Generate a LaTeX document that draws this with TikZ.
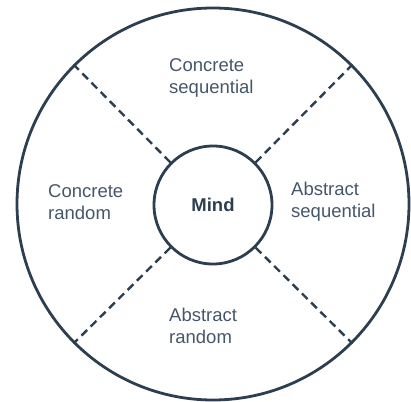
\documentclass[tikz,border=0pt]{standalone}
\usepackage{fontspec}
\setmainfont{Liberation Sans}
\definecolor{ink}{HTML}{2C3E50}
\definecolor{txt}{HTML}{46566A}
\begin{document}
\begin{tikzpicture}[x=1pt,y=-1pt,
  ring/.style={circle,draw=ink,line width=2.8pt,inner sep=0pt},
  divider/.style={draw=ink,line width=2.4pt,dash pattern=on 8pt off 5pt},
  label/.style={anchor=west,align=left,text=txt,inner sep=0pt,font=\fontsize{18.5}{22}\selectfont}]
\useasboundingbox (0,0) rectangle (411,401);
\node[ring,minimum size=392pt] (outer) at (213,204) {};
\node[ring,minimum size=118pt,font=\fontsize{18.5}{22}\selectfont\bfseries,text=ink] (mind) at (213,205) {Mind};
\foreach \a in {45,135,225,315}{
  \draw[divider] (mind.\a) -- (outer.\a);
}
\node[label] (cs) at (169,78) {Concrete\\sequential};
\node[label] (cr) at (48,202) {Concrete\\random};
\node[label] (as) at (291,202) {Abstract\\sequential};
\node[label] (ar) at (169,326) {Abstract\\random};
\end{tikzpicture}
\end{document}
